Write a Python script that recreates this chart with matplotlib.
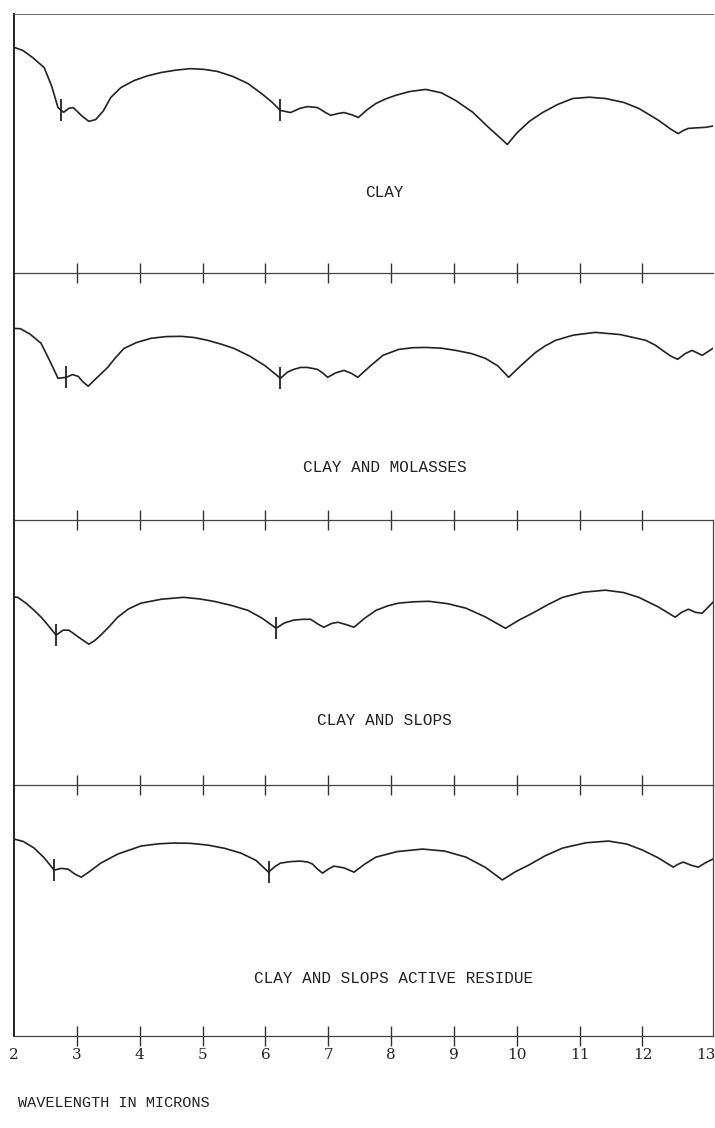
import numpy as np
import matplotlib.pyplot as plt

# spettri IR: lunghezza d'onda (micron) e trasmittanza relativa (0-1 nel pannello)
clay_x = [2.0, 2.14, 2.30, 2.48, 2.60, 2.70, 2.79, 2.87, 2.94, 3.0, 3.07, 3.19, 3.30, 3.42, 3.54,
          3.70, 3.91, 4.12, 4.34, 4.57, 4.81, 5.03, 5.24, 5.48, 5.72, 5.95, 6.10, 6.24, 6.40,
          6.55, 6.67, 6.83, 6.95, 7.04, 7.15, 7.25, 7.38, 7.48, 7.62, 7.76, 7.92, 8.07, 8.30,
          8.55, 8.80, 9.03, 9.30, 9.55, 9.72, 9.85, 10.0, 10.2, 10.41, 10.65, 10.89, 11.15,
          11.41, 11.70, 11.94, 12.25, 12.45, 12.57, 12.65, 12.73, 12.85, 13.0, 13.12]
clay_y = [0.87, 0.858, 0.83, 0.792, 0.72, 0.638, 0.62, 0.635, 0.638, 0.625, 0.608, 0.585, 0.592,
          0.625, 0.677, 0.715, 0.742, 0.760, 0.773, 0.782, 0.788, 0.785, 0.777, 0.758, 0.731,
          0.69, 0.66, 0.627, 0.619, 0.635, 0.642, 0.638, 0.62, 0.608, 0.615, 0.619, 0.61, 0.60,
          0.63, 0.654, 0.672, 0.685, 0.700, 0.708, 0.695, 0.665, 0.62, 0.562, 0.525, 0.496,
          0.54, 0.585, 0.619, 0.650, 0.673, 0.678, 0.673, 0.658, 0.635, 0.59, 0.555, 0.538,
          0.55, 0.558, 0.56, 0.562, 0.567]

molasses_x = [2.0, 2.10, 2.25, 2.43, 2.58, 2.70, 2.83, 2.93, 3.02, 3.10, 3.18, 3.33, 3.49, 3.62,
              3.75, 3.95, 4.18, 4.42, 4.66, 4.87, 5.08, 5.30, 5.50, 5.75, 6.0, 6.24, 6.35, 6.45,
              6.56, 6.67, 6.83, 6.92, 6.99, 7.12, 7.25, 7.37, 7.47, 7.67, 7.87, 8.12, 8.35, 8.55,
              8.80, 9.03, 9.28, 9.50, 9.70, 9.87, 10.08, 10.30, 10.45, 10.62, 10.90, 11.25, 11.65,
              12.05, 12.20, 12.32, 12.45, 12.56, 12.68, 12.79, 12.95, 13.12]
molasses_y = [0.777, 0.776, 0.755, 0.717, 0.64, 0.575, 0.579, 0.59, 0.583, 0.56, 0.543, 0.58,
              0.619, 0.66, 0.696, 0.72, 0.737, 0.744, 0.745, 0.740, 0.729, 0.713, 0.696, 0.665,
              0.625, 0.575, 0.600, 0.611, 0.619, 0.619, 0.611, 0.595, 0.579, 0.597, 0.607, 0.595,
              0.579, 0.625, 0.668, 0.692, 0.699, 0.700, 0.697, 0.688, 0.675, 0.656, 0.625, 0.579,
              0.63, 0.680, 0.706, 0.729, 0.750, 0.761, 0.752, 0.729, 0.71, 0.688, 0.665, 0.652,
              0.675, 0.688, 0.668, 0.696]

slops_x = [2.0, 2.06, 2.20, 2.32, 2.44, 2.54, 2.67, 2.78, 2.87, 2.95, 3.03, 3.19, 3.28, 3.38, 3.52,
           3.65, 3.82, 4.02, 4.35, 4.70, 4.95, 5.18, 5.45, 5.72, 5.95, 6.17, 6.30, 6.45, 6.60,
           6.72, 6.85, 6.93, 7.05, 7.15, 7.30, 7.41, 7.58, 7.76, 7.95, 8.12, 8.35, 8.60, 8.90,
           9.19, 9.50, 9.82, 10.05, 10.25, 10.50, 10.73, 11.05, 11.41, 11.70, 11.94, 12.25,
           12.52, 12.62, 12.73, 12.85, 12.95, 13.12]
slops_y = [0.71, 0.709, 0.685, 0.660, 0.632, 0.604, 0.566, 0.585, 0.585, 0.572, 0.558, 0.532, 0.545,
           0.566, 0.60, 0.634, 0.665, 0.687, 0.702, 0.709, 0.703, 0.694, 0.679, 0.660, 0.63,
           0.592, 0.612, 0.623, 0.626, 0.626, 0.606, 0.596, 0.610, 0.615, 0.605, 0.596, 0.63,
           0.660, 0.677, 0.687, 0.692, 0.694, 0.685, 0.668, 0.635, 0.592, 0.625, 0.649, 0.682,
           0.709, 0.728, 0.736, 0.727, 0.709, 0.673, 0.634, 0.652, 0.664, 0.652, 0.649, 0.69]

residue_x = [2.0, 2.15, 2.32, 2.48, 2.64, 2.75, 2.86, 2.97, 3.07, 3.20, 3.38, 3.65, 4.02, 4.30, 4.54,
             4.80, 5.08, 5.35, 5.61, 5.85, 6.05, 6.15, 6.24, 6.40, 6.56, 6.68, 6.75, 6.83, 6.91,
             7.0, 7.09, 7.25, 7.41, 7.58, 7.76, 8.10, 8.50, 8.85, 9.19, 9.50, 9.77, 9.98, 10.19,
             10.45, 10.73, 11.10, 11.46, 11.75, 12.0, 12.25, 12.49, 12.57, 12.65, 12.78, 12.89,
             13.0, 13.12]
residue_y = [0.785, 0.775, 0.749, 0.71, 0.661, 0.668, 0.665, 0.645, 0.633, 0.655, 0.689, 0.725,
             0.757, 0.766, 0.769, 0.768, 0.761, 0.748, 0.729, 0.70, 0.653, 0.675, 0.689, 0.695,
             0.697, 0.693, 0.685, 0.665, 0.649, 0.665, 0.677, 0.67, 0.653, 0.685, 0.713, 0.735,
             0.745, 0.737, 0.713, 0.672, 0.622, 0.655, 0.681, 0.718, 0.749, 0.770, 0.777, 0.765,
             0.741, 0.71, 0.673, 0.685, 0.693, 0.68, 0.673, 0.69, 0.705]

# segni di calibrazione sulle curve
calib = [[2.75, 6.24], [2.83, 6.24], [2.67, 6.17], [2.64, 6.05]]
labels = ["CLAY", "CLAY AND MOLASSES", "CLAY AND SLOPS", "CLAY AND SLOPS ACTIVE RESIDUE"]
label_pos = [(0.53, 0.31), (0.53, 0.215), (0.53, 0.245), (0.543, 0.231)]

wl_ticks = list(range(2, 14))

series = [(clay_x, clay_y), (molasses_x, molasses_y), (slops_x, slops_y), (residue_x, residue_y)]

fig = plt.figure(figsize=(7.15, 11.28), dpi=100)
gs = fig.add_gridspec(4, 1, left=0.0196, right=0.997, top=0.988, bottom=0.0816,
                      hspace=0, height_ratios=[260, 247, 265, 251])

for i, (xs, ys) in enumerate(series):
    ax = fig.add_subplot(gs[i])
    ax.patch.set_visible(False)  # altrimenti copre la linea di base del pannello sopra
    ax.plot(xs, ys, color="#222222", lw=1.2)
    cy = np.interp(calib[i], xs, ys)
    ax.plot(calib[i], cy, ls="none", marker="|", ms=16, mew=1.3, color="#222222")
    ax.set_xlim(2, 13.12)
    ax.set_ylim(0, 1)
    ax.set_yticks([])
    ax.spines["left"].set_linewidth(1.4)
    ax.spines["left"].set_color("#222222")
    ax.spines["bottom"].set_linewidth(0.9)
    ax.spines["bottom"].set_color("#444444")
    ax.spines["top"].set_visible(i == 0)
    ax.spines["top"].set_linewidth(0.7)
    ax.spines["top"].set_color("#666666")
    ax.spines["right"].set_visible(i >= 2)
    ax.spines["right"].set_linewidth(0.9)
    ax.spines["right"].set_color("#444444")
    ax.tick_params(axis="x", direction="inout", length=14, width=1.0, color="#333333")
    if i < 3:
        ax.set_xticks(wl_ticks[1:-1])
        ax.set_xticklabels([])
    else:
        ax.set_xticks(wl_ticks)
        ax.set_xticklabels([str(t) for t in wl_ticks], fontfamily="DejaVu Serif",
                           fontsize=11, color="#222222")
        ax.tick_params(axis="x", pad=2)
        # niente tacca agli estremi 2 e 13
        for t in (ax.xaxis.get_major_ticks()[0], ax.xaxis.get_major_ticks()[-1]):
            t.tick1line.set_visible(False)
    ax.text(label_pos[i][0], label_pos[i][1], labels[i], transform=ax.transAxes,
            ha="center", va="center", fontfamily="Liberation Mono", fontsize=11.5,
            color="#222222")

fig.text(0.025, 1 - 1103 / 1128, "WAVELENGTH IN MICRONS", ha="left", va="center",
         fontfamily="Liberation Mono", fontsize=11, color="#222222")

fig.savefig("out.png", dpi=100, facecolor="white")
